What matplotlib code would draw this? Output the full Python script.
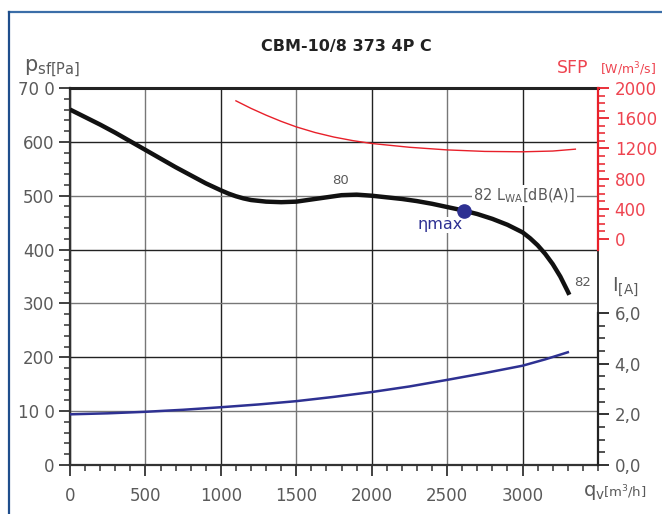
import numpy as np
import matplotlib
matplotlib.use("Agg")
from matplotlib import pyplot as plt
from matplotlib.lines import Line2D
from matplotlib.ticker import MultipleLocator, FixedLocator

# pressure curve p_sf [Pa] vs airflow q_v [m3/h]
q_p = [0, 100, 200, 300, 400, 500, 600, 700, 800, 900, 1000, 1050, 1100,
       1150, 1200, 1300, 1400, 1500, 1600, 1700, 1800, 1900, 2000, 2100,
       2200, 2300, 2400, 2500, 2600, 2700, 2800, 2900, 3000, 3050, 3100,
       3150, 3200, 3250, 3300, 3310]
p_sf = [660, 646, 632, 617, 601, 585, 569, 553, 538, 523, 510, 504, 499,
        495, 492, 489, 488, 489, 493, 497, 501, 502, 500, 497,
        494, 490, 485, 479, 473, 466, 457, 446, 432, 421, 408,
        392, 373, 350, 322, 316]

# current I [A]
q_i = [0, 250, 500, 750, 1000, 1250, 1500, 1750, 2000, 2250, 2500, 2750,
       3000, 3150, 3300]
cur = [2.0, 2.04, 2.1, 2.18, 2.28, 2.39, 2.52, 2.69, 2.88, 3.1, 3.36, 3.63,
       3.92, 4.17, 4.45]

# SFP [W/m3/s]
q_sfp = [1100, 1200, 1300, 1400, 1500, 1625, 1750, 1875, 2000, 2250, 2500,
         2750, 3000, 3200, 3350]
sfp = [1830, 1730, 1640, 1558, 1485, 1410, 1350, 1303, 1265, 1215, 1180,
       1160, 1155, 1165, 1190]

# efficiency max point
eta_q, eta_p = 2610, 472

p_ticks = [0, 100, 200, 300, 400, 500, 600, 700]
p_labels = ["0", "10 0", "200", "300", "400", "500", "600", "70 0"]
x_ticks = [0, 500, 1000, 1500, 2000, 2500, 3000]
i_ticks = [0, 2, 4, 6]
i_labels = ["0,0", "2,0", "4,0", "6,0"]
sfp_ticks = [0, 400, 800, 1200, 1600, 2000]

grey = "#5a5a5a"
red_line = "#e8202a"
red_text = "#ee4450"
navy = "#2e3192"

plt.rcParams["font.family"] = ["DejaVu Sans"]

fig = plt.figure(figsize=(6.62, 5.14), dpi=100)
ax = fig.add_axes([70/662, 49/514, 528/662, 377/514])

ax.set_xlim(0, 3500)
ax.set_ylim(0, 700)

# grid
ax.set_xticks(x_ticks)
ax.set_yticks(p_ticks)
ax.set_yticklabels(p_labels)
ax.xaxis.set_minor_locator(MultipleLocator(100))
ax.yaxis.set_minor_locator(MultipleLocator(20))
ax.grid(True, which="major", color="#444444", lw=1.0)
for i, gl in enumerate(ax.get_xgridlines()):
    gl.set_color("#777777" if i % 2 else "#222222")
for i, gl in enumerate(ax.get_ygridlines()):
    gl.set_color("#777777" if i % 2 else "#222222")
ax.set_axisbelow(True)

ax.tick_params(axis="both", which="major", length=8, width=1.3, color="#333333",
               labelcolor=grey, labelsize=12)
ax.tick_params(axis="both", which="minor", length=4, width=1.1, color="#333333")
ax.tick_params(axis="x", pad=8)
ax.tick_params(axis="y", pad=3)

for s in ["left", "bottom"]:
    ax.spines[s].set_linewidth(1.6)
    ax.spines[s].set_color("#333333")
ax.spines["top"].set_linewidth(2.2)
ax.spines["top"].set_color("#222222")
ax.spines["right"].set_linewidth(1.4)
ax.spines["right"].set_color("#333333")

ax.plot(q_p, p_sf, color="#111111", lw=3.2, solid_capstyle="butt",
        solid_joinstyle="round", zorder=4)
ax.plot(eta_q, eta_p, "o", ms=9.5, color=navy, zorder=6)

# current axis
ax2 = ax.twinx()
ax2.set_ylim(0, 6 * 377 / 152)
ax2.plot(q_i, cur, color=navy, lw=1.8)
ax2.spines["right"].set_bounds(0, 6)
ax2.spines["right"].set_linewidth(1.6)
ax2.spines["right"].set_color("#222222")
for s in ["left", "top", "bottom"]:
    ax2.spines[s].set_visible(False)
ax2.yaxis.set_major_locator(FixedLocator(i_ticks))
ax2.set_yticklabels(i_labels)
ax2.yaxis.set_minor_locator(FixedLocator(np.arange(0, 6.01, 0.5)))
ax2.tick_params(axis="y", which="major", length=8, width=1.3, color="#222222",
                labelcolor=grey, labelsize=12, pad=4)
ax2.tick_params(axis="y", which="minor", length=5, width=1.1, color="#222222")

# SFP axis
ax3 = ax.twinx()
ax3.set_ylim(-226 / 151 * 2000, 2000)
ax3.plot(q_sfp, sfp, color=red_line, lw=1.0)
ax3.spines["right"].set_bounds(-150, 2000)
ax3.spines["right"].set_linewidth(1.6)
ax3.spines["right"].set_color(red_line)
for s in ["left", "top", "bottom"]:
    ax3.spines[s].set_visible(False)
ax3.yaxis.set_major_locator(FixedLocator(sfp_ticks))
ax3.yaxis.set_minor_locator(FixedLocator(np.arange(0, 2001, 100)))
ax3.tick_params(axis="y", which="major", length=8, width=1.3, color=red_line,
                labelcolor=red_text, labelsize=12, pad=4)
ax3.tick_params(axis="y", which="minor", length=5, width=1.1, color=red_line)

# annotations
ax.text(1796, 529, "80", color=grey, fontsize=9.5, ha="center", va="center")
ax.text(3400, 338, "82", color=grey, fontsize=9.5, ha="center", va="center")
ax.text(2672, 500, r"82 L$_{\mathregular{WA}}$[dB(A)]", color=grey,
        fontsize=10.5, ha="left", va="center", zorder=5,
        bbox=dict(facecolor="white", edgecolor="none", pad=1))
ax.text(2453, 446, "\u03b7max", color=navy, fontsize=11.5, ha="center",
        va="center", zorder=5,
        bbox=dict(facecolor="white", edgecolor="none", pad=0.5))

# axis titles
fig.text(24/662, 1 - 68/514, r"$\mathregular{p_{sf[Pa]}}$", color=grey,
         fontsize=15, ha="left", va="center")
fig.text(557/662, 1 - 68/514, "SFP", color=red_text, fontsize=12.5,
         ha="left", va="center")
fig.text(600/662, 1 - 69/514, r"[W/m$^3$/s]", color=red_text, fontsize=9,
         ha="left", va="center")
fig.text(612/662, 1 - 287/514, r"$\mathregular{I_{[A]}}$", color=grey,
         fontsize=14, ha="left", va="center")
fig.text(583/662, 1 - 492/514, r"$\mathregular{q_v}$", color=grey,
         fontsize=14, ha="left", va="center")
fig.text(603/662, 1 - 492/514, r"[m$^3$/h]", color=grey, fontsize=9.5,
         ha="left", va="center")

fig.text(346/662, 1 - 47/514, "CBM-10/8 373 4P C", color="#222222",
         fontsize=11.5, fontweight="bold", ha="center", va="center")

# outer frame
fig.add_artist(Line2D([9/662, 1], [1 - 12/514, 1 - 12/514], color="#3b6ea8",
                      lw=1.6, transform=fig.transFigure))
fig.add_artist(Line2D([9/662, 9/662], [0, 1 - 12/514], color="#1f4e8c",
                      lw=1.6, transform=fig.transFigure))

fig.savefig("out.png", dpi=100)
